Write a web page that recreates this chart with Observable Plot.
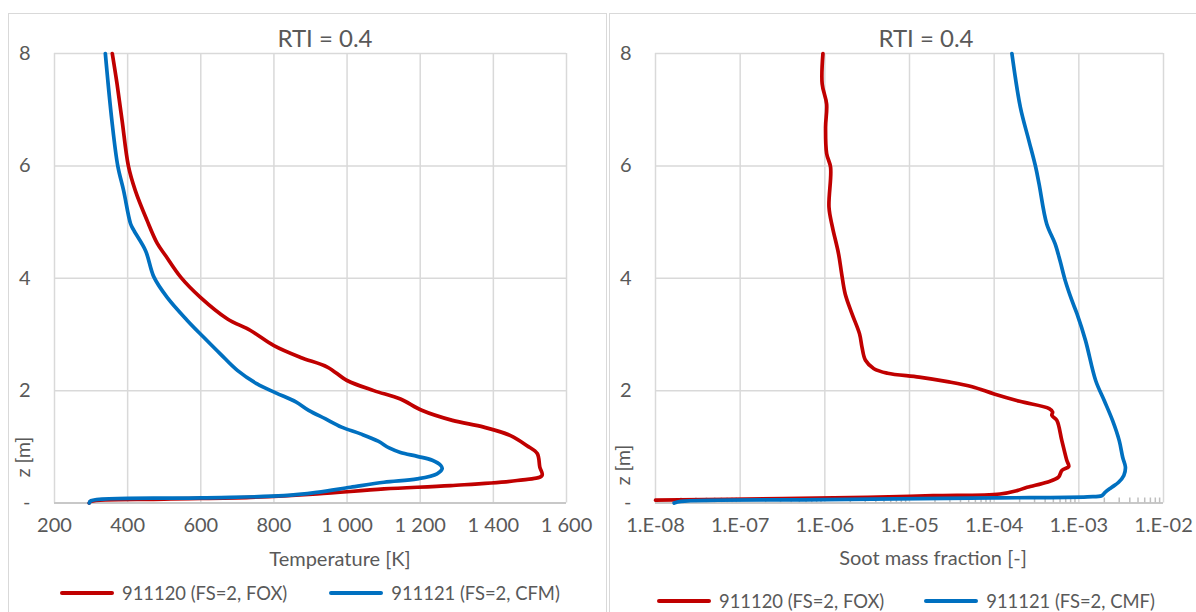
<!DOCTYPE html>
<html>
<head>
<meta charset="utf-8">
<script src="https://cdn.jsdelivr.net/npm/d3@7"></script>
<script src="https://cdn.jsdelivr.net/npm/@observablehq/plot@0.6"></script>
<style>
  body { margin: 0; background: #fff; }
  #wrap { position: relative; width: 1196px; height: 612px; overflow: hidden;
          font-family: Lato, "Open Sans", sans-serif; color: #595959; }
  .panel { position: absolute; top: 13px; height: 640px; border: 1px solid #d9d9d9; box-sizing: border-box; }
  .chart { position: absolute; top: 0; }
  .title { position: absolute; font-size: 24px; transform: translate(-50%, -50%); white-space: nowrap; }
  .xlabel { position: absolute; font-size: 20px; transform: translate(-50%, -50%); white-space: nowrap; }
  .ylabel { position: absolute; font-size: 19.5px; transform: translate(-50%, -50%) rotate(-90deg); white-space: nowrap; }
  .legend { position: absolute; display: flex; align-items: center; font-size: 18.4px; white-space: nowrap; }
  .legend svg { margin-right: 8px; }
  .legend .item { display: flex; align-items: center; }
</style>
</head>
<body>
<div id="wrap">
  <div class="panel" style="left:8px; width:599px;"></div>
  <div class="panel" style="left:609px; width:600px;"></div>
  <div id="left" class="chart" style="left:0px;"></div>
  <div id="right" class="chart" style="left:606px;"></div>
  <div class="title" style="left:325px; top:37px;">RTI = 0.4</div>
  <div class="title" style="left:926px; top:37px;">RTI = 0.4</div>
  <div class="xlabel" style="left:340px; top:558px;">Temperature [K]</div>
  <div class="xlabel" style="left:933px; top:557px;">Soot mass fraction [-]</div>
  <div class="ylabel" style="left:22px; top:457px;">z [m]</div>
  <div class="ylabel" style="left:622px; top:465px;">z [m]</div>
  <div id="legendLeft" class="legend" style="left:60px; top:582px;"></div>
  <div id="legendRight" class="legend" style="left:657px; top:590px;"></div>
</div>
<script>
// Series colours and names
const red = "#c00000";
const blue = "#0070c0";
const seriesLeft = ["911120 (FS=2, FOX)", "911121 (FS=2, CFM)"];
const seriesRight = ["911120 (FS=2, FOX)", "911121 (FS=2, CMF)"];

// Axis ticks and labels
const zTicks = [0, 2, 4, 6, 8];
const zTickLabels = ["-", "2", "4", "6", "8"];
const tempTicks = [200, 400, 600, 800, 1000, 1200, 1400, 1600];
const tempTickLabels = ["200", "400", "600", "800", "1 000", "1 200", "1 400", "1 600"];
const sootTicks = [1e-8, 1e-7, 1e-6, 1e-5, 1e-4, 1e-3, 1e-2];
const sootTickLabels = ["1.E-08", "1.E-07", "1.E-06", "1.E-05", "1.E-04", "1.E-03", "1.E-02"];

// Temperature profile, 911120 (FOX)
const zTempFox = [8.0, 7.46, 6.8, 6.0, 5.56, 5.03, 4.62, 4.40, 4.02, 3.66, 3.28, 3.07, 2.80, 2.59, 2.42,
  2.18, 2.0, 1.85, 1.65, 1.47, 1.35, 1.20, 1.02, 0.88, 0.64, 0.49, 0.40, 0.31, 0.25, 0.16, 0.10, 0.07, 0.03, 0.0];
const tempFox = [358, 371, 385, 402, 421, 453, 481, 504, 545, 599, 672, 736, 800, 873, 946,
  1000, 1073, 1146, 1204, 1288, 1374, 1447, 1492, 1520, 1527, 1533, 1465, 1283, 1101, 918, 736, 500, 300, 295];

// Temperature profile, 911121 (CFM)
const zTempCfm = [8.0, 6.8, 6.0, 5.56, 4.97, 4.85, 4.49, 4.02, 3.66, 3.25, 2.95, 2.65, 2.36, 2.12, 1.96,
  1.80, 1.65, 1.50, 1.35, 1.23, 1.10, 0.98, 0.90, 0.83, 0.76, 0.67, 0.61, 0.52, 0.43, 0.37, 0.28, 0.19, 0.13, 0.09, 0.04, 0.0];
const tempCfm = [339, 357, 373, 389, 408, 417, 449, 472, 508, 563, 608, 654, 700, 754, 805,
  860, 895, 940, 985, 1037, 1085, 1115, 1146, 1192, 1233, 1256, 1260, 1246, 1192, 1101, 1009, 918, 827, 600, 300, 295];

// Soot mass fraction profile, 911120 (FOX)
const zSootFox = [8.0, 7.46, 7.1, 6.69, 6.22, 5.97, 5.26, 4.91, 4.44, 4.08, 3.72, 3.37, 3.01, 2.77, 2.54,
  2.39, 2.31, 2.24, 2.16, 2.07, 1.94, 1.81, 1.68, 1.62, 1.56, 1.47, 1.11, 0.76, 0.65, 0.58, 0.46, 0.37,
  0.28, 0.22, 0.16, 0.13, 0.10, 0.08, 0.05];
const sootFox = [9.5e-7, 9.3e-7, 1.05e-6, 1.02e-6, 1.05e-6, 1.17e-6, 1.12e-6, 1.23e-6, 1.45e-6, 1.58e-6, 1.74e-6, 2.09e-6, 2.57e-6, 2.75e-6, 3.02e-6,
  3.8e-6, 5.5e-6, 1.3e-5, 2.8e-5, 5.5e-5, 1.0e-4, 2.0e-4, 4.47e-4, 4.9e-4, 4.8e-4, 5.5e-4, 6.3e-4, 7.2e-4, 7.6e-4, 6.3e-4, 5.75e-4, 4.2e-4,
  2.45e-4, 1.86e-4, 1.17e-4, 1.9e-5, 3.2e-6, 3.2e-7, 1e-8];

// Soot mass fraction profile, 911121 (CMF)
const zSootCmf = [8.0, 7.04, 6.45, 5.98, 5.68, 4.97, 4.61, 4.31, 3.96, 3.60, 3.37, 2.89, 2.18, 1.82, 1.47,
  1.11, 0.81, 0.64, 0.49, 0.37, 0.28, 0.19, 0.13, 0.11, 0.09, 0.06, 0.03, 0.0];
const sootCmf = [1.62e-4, 2.04e-4, 2.57e-4, 3.09e-4, 3.39e-4, 4.17e-4, 5.25e-4, 6.0e-4, 6.9e-4, 8.3e-4, 9.5e-4, 1.2e-3, 1.58e-3, 2.0e-3, 2.5e-3,
  3.0e-3, 3.3e-3, 3.55e-3, 3.4e-3, 2.95e-3, 2.45e-3, 2.04e-3, 1.86e-3, 1.26e-3, 1e-4, 1e-6, 2e-8, 1.66e-8];

// Shared layout
const svgHeight = 575, frameTop = 53, zeroY = 502.5;
const gridStyle = {stroke: "#d9d9d9", strokeOpacity: 1, strokeWidth: 1.5};
const lineStyle = {strokeWidth: 3.7, strokeLinejoin: "round", strokeLinecap: "round", curve: "catmull-rom"};
const fontSize = 20;
const textColor = "#595959";

function yAxis() {
  return Plot.axisY(zTicks, {tickSize: 0, tickPadding: 24, fontSize, fill: textColor,
    tickFormat: (d, i) => zTickLabels[i], label: null});
}

// Bottom tick labels, placed under each tick value
function xLabels(values, labels) {
  return Plot.text(labels, {x: values, frameAnchor: "bottom", dy: 29, fontSize, fill: textColor});
}

const left = Plot.plot({
  width: 606, height: svgHeight,
  marginLeft: 54, marginRight: 40, marginTop: frameTop, marginBottom: svgHeight - zeroY,
  style: {fontFamily: "Lato, 'Open Sans', sans-serif", overflow: "visible", background: "transparent"},
  x: {domain: [200, 1600], axis: null},
  y: {domain: [0, 8]},
  marks: [
    Plot.gridX(tempTicks, gridStyle),
    Plot.gridY(zTicks, gridStyle),
    Plot.ruleY([0], {stroke: "#bfbfbf", strokeWidth: 1.5}),
    Plot.line(zTempFox, {x: tempFox, y: zTempFox, stroke: red, ...lineStyle}),
    Plot.line(zTempCfm, {x: tempCfm, y: zTempCfm, stroke: blue, ...lineStyle}),
    xLabels(tempTicks, tempTickLabels),
    yAxis()
  ]
});
document.getElementById("left").append(left);

// Minor log ticks along the bottom of the soot axis
const minorTicks = [];
for (const decade of sootTicks.slice(0, -1)) for (let m = 2; m <= 9; m++) minorTicks.push(m * decade);

const right = Plot.plot({
  width: 590, height: svgHeight,
  marginLeft: 49, marginRight: 33, marginTop: frameTop, marginBottom: svgHeight - zeroY,
  style: {fontFamily: "Lato, 'Open Sans', sans-serif", overflow: "visible", background: "transparent"},
  x: {type: "log", domain: [1e-8, 1e-2], axis: null},
  y: {domain: [0, 8]},
  marks: [
    Plot.gridX(sootTicks, gridStyle),
    Plot.gridY(zTicks, gridStyle),
    Plot.ruleY([0], {stroke: "#bfbfbf", strokeWidth: 1.5}),
    Plot.tickX(minorTicks, {x: d => d, stroke: "#bfbfbf", strokeWidth: 1.5, insetTop: (zeroY - frameTop) - 5}),
    Plot.line(zSootFox, {x: sootFox, y: zSootFox, stroke: red, ...lineStyle}),
    Plot.line(zSootCmf, {x: sootCmf, y: zSootCmf, stroke: blue, ...lineStyle}),
    xLabels(sootTicks, sootTickLabels),
    yAxis()
  ]
});
document.getElementById("right").append(right);

// Legends
function legend(el, names, gap) {
  const node = document.getElementById(el);
  [red, blue].forEach((c, i) => {
    const item = document.createElement("div");
    item.className = "item";
    if (i > 0) item.style.marginLeft = gap + "px";
    item.innerHTML = `<svg width="54" height="8"><line x1="2" y1="4" x2="52" y2="4" stroke="${c}" stroke-width="4" stroke-linecap="round"/></svg><span>${names[i]}</span>`;
    node.append(item);
  });
}
legend("legendLeft", seriesLeft, 42);
legend("legendRight", seriesRight, 40);
</script>
</body>
</html>
